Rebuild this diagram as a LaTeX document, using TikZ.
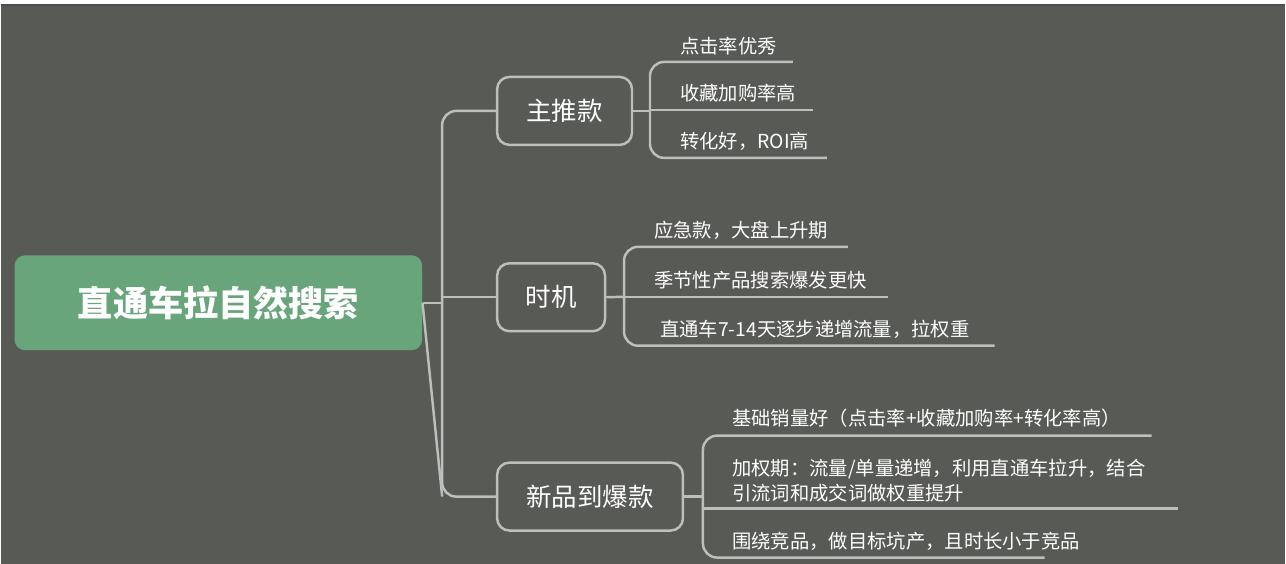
\documentclass[tikz,border=0pt]{standalone}
\usepackage{fontspec}
\setmainfont{Noto Sans CJK SC}
\usetikzlibrary{positioning}
\definecolor{bgcol}{HTML}{585A56}
\definecolor{rootcol}{HTML}{68A57B}
\definecolor{linecol}{HTML}{BEBEBC}
\tikzset
{
    root/.style   = {rectangle, rounded corners=6pt, fill=rootcol, text=white, font=\fontsize{20}{24}\selectfont\bfseries, minimum width=11.56cm*0.7059, minimum height=1.9cm, inner sep=0pt},
    topic/.style  = {rectangle, rounded corners=7pt, draw=linecol, line width=1.4pt, text=white, font=\fontsize{14.5}{17}\selectfont, minimum height=1.36cm, inner sep=0pt},
    leaf/.style   = {anchor=south west, text=white, font=\fontsize{11}{14}\selectfont, inner sep=0pt, align=left},
    link/.style   = {draw=linecol, line width=1.4pt, rounded corners=8pt},
    uline/.style  = {draw=linecol, line width=1.4pt}
}
\begin{document}
\begin{tikzpicture}[x=0.02cm, y=-0.02cm]
   \fill[bgcol] (0,0) rectangle (1286,564);
   \fill[white] (0,0) rectangle (1286,5);
   \draw[black!70, line width=0.6pt] (0,5) -- (1286,5);
   \useasboundingbox (0,0) rectangle (1286,564);

	 \node (r)   [root]                      at (218, 303)  {直通车拉自然搜索};
	 \node (m)   [topic, minimum width=2.7cm] at (564.5, 111)  {主推款};
	 \node (t)   [topic, minimum width=2.16cm] at (551, 297.5) {时机};
	 \node (n)   [topic, minimum width=3.72cm] at (590, 497)   {新品到爆款};

	 % leaves of 主推款
	 \coordinate (m1) at (793, 62);
	 \coordinate (m2) at (813, 110);
	 \coordinate (m3) at (827, 158);
	 \node (m1t) [leaf] at (680, 55)  {点击率优秀};
	 \node (m2t) [leaf] at (680, 103) {收藏加购率高};
	 \node (m3t) [leaf] at (680, 151) {转化好，ROI高};

	 % leaves of 时机
	 \coordinate (t1) at (848, 247);
	 \coordinate (t2) at (888, 297);
	 \coordinate (t3) at (995, 346);
	 \node (t1t) [leaf] at (654, 240) {应急款，大盘上升期};
	 \node (t2t) [leaf] at (654, 290) {季节性产品搜索爆发更快};
	 \node (t3t) [leaf] at (660, 339) {直通车7-14天逐步递增流量，拉权重};

	 % leaves of 新品到爆款
	 \coordinate (n1) at (1152, 436);
	 \coordinate (n2) at (1178, 509);
	 \coordinate (n3) at (1045, 558);
	 \node (n1t) [leaf] at (732, 428) {基础销量好（点击率+收藏加购率+转化率高）};
	 \node (n2t) [leaf] at (732, 503) {加权期：流量/单量递增，利用直通车拉升，结合\\引流词和成交词做权重提升};
	 \node (n3t) [leaf] at (732, 551) {围绕竞品，做目标坑产，且时长小于竞品};

	 \path[link]
	    (r.east) -- (n.west -| 442, 0) (442, 303) -- (442, 303);
	 \draw[link] (r.east) -- (442, 303);
	 \draw[link] (m.west) -- (442, 111) -- (442, 497) -- (n.west);
	 \draw[link] (442, 297.5) -- (t.west);

	 \draw[link] (m.east) -- (650, 111);
	 \draw[link] (m1) -- (650, 62) -- (650, 158) -- (m3);
	 \draw[uline] (650, 110) -- (m2);

	 \draw[link] (t.east) -- (624, 297);
	 \draw[link] (t1) -- (624, 247) -- (624, 346) -- (t3);
	 \draw[uline] (624, 297) -- (t2);

	 \draw[link] (n.east) -- (703, 497);
	 \draw[link] (n1) -- (703, 436) -- (703, 558) -- (n3);
	 \draw[uline] (703, 509) -- (n2);
\end{tikzpicture}
\end{document}
